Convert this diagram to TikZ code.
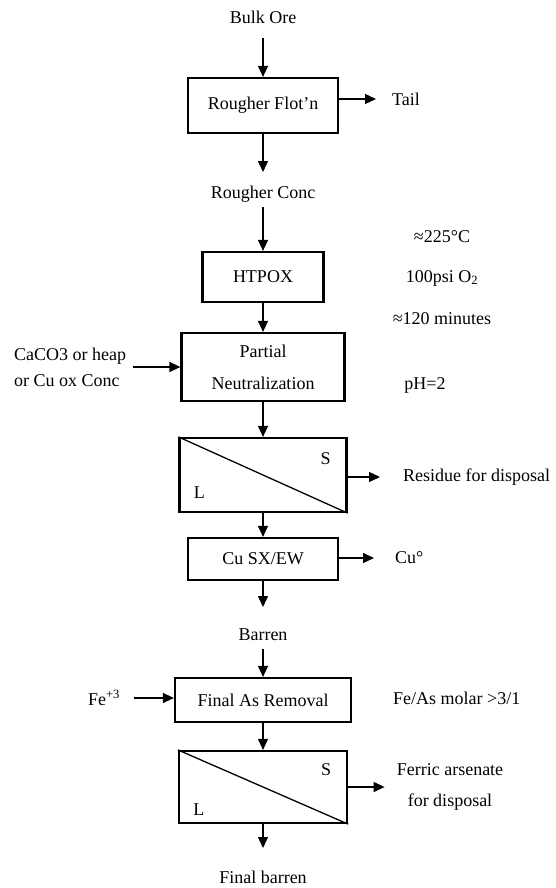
\documentclass[tikz,border=0pt]{standalone}
\usepackage{fontspec}
\setmainfont{Liberation Serif}
\usetikzlibrary{arrows.meta,positioning,calc}
\tikzset{
  procbox/.style={draw=black, line width=2.2pt, fill=white, inner sep=0pt,
                  align=center, font=\fontsize{18}{22}\selectfont},
  procarr/.style={-{Triangle[length=11pt,width=10pt]}, draw=black, line width=1.3pt},
  proclab/.style={inner sep=0pt, align=center, font=\fontsize{18}{22}\selectfont},
  sepline/.style={draw=black, line width=1.3pt},
}
\begin{document}
\begin{tikzpicture}[x=1pt,y=-1pt]
\useasboundingbox (0,0) rectangle (555,888);
\node[proclab] (bulk) at (263,17) {Bulk Ore};
\node[procbox, minimum width=150pt, minimum height=55pt] (rough) at (263,105.5) {Rougher Flot'n};
\node[proclab, anchor=west] (tail) at (392,99) {Tail};
\node[proclab] (rconc) at (263,194) {Rougher Conc};
\node[procbox, minimum width=121pt, minimum height=50pt] (htpox) at (263,277) {HTPOX};
\node[proclab] (temp) at (442,237) {≈225°C};
\node[proclab] (press) at (442,278) {100psi O\textsubscript{2}};
\node[proclab] (time) at (442,319) {≈120 minutes};
\node[procbox, minimum width=163pt, minimum height=68pt, font=\fontsize{18}{32}\selectfont] (partial) at (263,367)
  {Partial\\Neutralization};
\node[proclab, anchor=west, align=left, font=\fontsize{18}{26}\selectfont] (caco) at (14,367)
  {CaCO3 or heap\\or Cu ox Conc};
\node[proclab] (ph) at (425,385) {pH=2};
\node[procbox, minimum width=167pt, minimum height=74pt] (filt1) at (263,475) {};
\draw[sepline] (filt1.north west) -- (filt1.south east);
\node[proclab] (s1) at ($(filt1.north east)+(-22,22)$) {S};
\node[proclab] (l1) at ($(filt1.south west)+(21,-20)$) {L};
\node[proclab, anchor=west] (resid) at (403,477) {Residue for disposal};
\node[procbox, minimum width=150pt, minimum height=42pt] (cusx) at (263,559) {Cu SX/EW};
\node[proclab, anchor=west] (cu) at (395,558) {Cu°};
\node[proclab] (barren) at (263,635) {Barren};
\node[procbox, minimum width=176pt, minimum height=44pt] (fas) at (263,700) {Final As Removal};
\node[proclab] (fe) at (104,698) {Fe\textsuperscript{+3}};
\node[proclab, anchor=west] (molar) at (393,698) {Fe/As molar >3/1};
\node[procbox, minimum width=168pt, minimum height=72pt] (filt2) at (263,787) {};
\draw[sepline] (filt2.north west) -- (filt2.south east);
\node[proclab] (s2) at ($(filt2.north east)+(-22,20)$) {S};
\node[proclab] (l2) at ($(filt2.south west)+(21,-15)$) {L};
\node[proclab, font=\fontsize{18}{31}\selectfont] (ferric) at (450,787) {Ferric arsenate\\for disposal};
\node[proclab] (fbarren) at (263,877) {Final barren};
\draw[procarr] ($(bulk.center)+(0,21)$) -- (rough.north);
\draw[procarr] (rough.south) -- ($(rconc.center)+(0,-22)$);
\draw[procarr] ($(rconc.center)+(0,13)$) -- (htpox.north);
\draw[procarr] (htpox.south) -- (partial.north);
\draw[procarr] (partial.south) -- (filt1.north);
\draw[procarr] (filt1.south) -- (cusx.north);
\draw[procarr] (cusx.south) -- ($(barren.center)+(0,-28)$);
\draw[procarr] ($(barren.center)+(0,14)$) -- (fas.north);
\draw[procarr] (fas.south) -- (filt2.north);
\draw[procarr] (filt2.south) -- ($(fbarren.center)+(0,-29)$);
\draw[procarr] (rough.east |- tail.west) -- ($(tail.west)+(-16,0)$);
\draw[procarr] ($(caco.east)+(7,0)$) -- (partial.west);
\draw[procarr] (filt1.east |- resid.west) -- ($(resid.west)+(-23,0)$);
\draw[procarr] (cusx.east |- cu.west) -- ($(cu.west)+(-21,0)$);
\draw[procarr] ($(fe.east)+(14,0)$) -- (fas.west |- fe.east);
\draw[procarr] (filt2.east) -- ($(ferric.west)+(-12,0)$);
\end{tikzpicture}
\end{document}
